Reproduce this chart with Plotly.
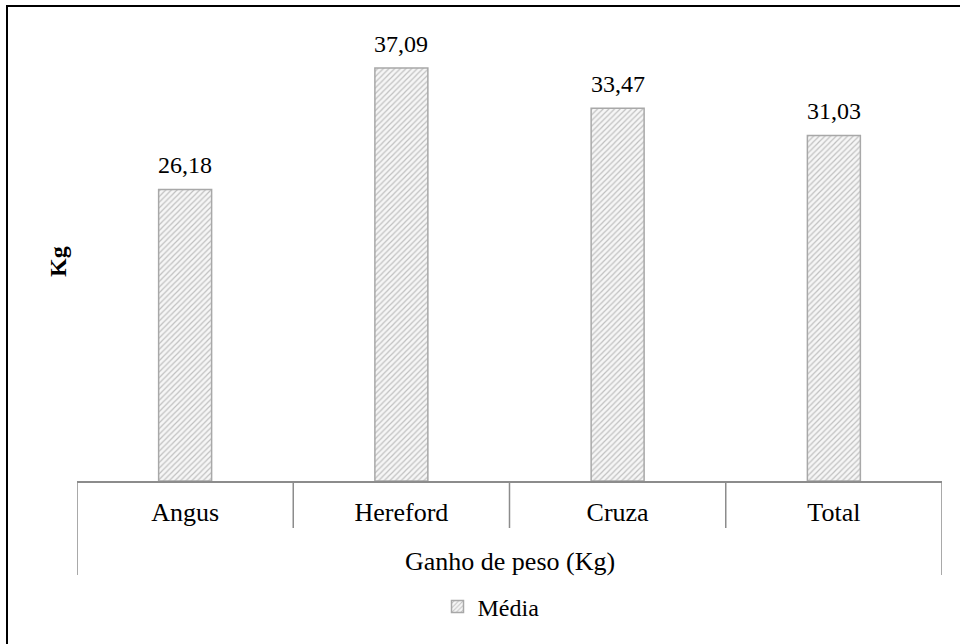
import plotly.graph_objects as go

categories = ["Angus", "Hereford", "Cruza", "Total"]
values = [26.18, 37.09, 33.47, 31.03]
series_name = "Média"
group_label = "Ganho de peso (Kg)"
y_title = "Kg"

W, H = 960, 644
FONT = "Liberation Serif"

labels = [f"{v:.2f}".replace(".", ",") for v in values]

fig = go.Figure()
fig.add_trace(go.Bar(
    x=categories, y=values, name=series_name, width=0.245,
    marker=dict(color="white",
                line=dict(color="#a8a8a8", width=1.5),
                pattern=dict(shape="/", fgcolor="#8a8a8a", bgcolor="#f6f6f6",
                             size=4, solidity=0.3)),
    showlegend=True,
))

annotations = []
for c, v, t in zip(categories, values, labels):
    annotations.append(dict(x=c, y=v, xref="x", yref="y", text=t, showarrow=False,
                            yanchor="bottom", yshift=9,
                            font=dict(family=FONT, size=24, color="black")))

ybase = (H - 481) / H
ytop = (H - 35.5) / H
x0 = 77 / W
x1 = 942 / W

annotations.append(dict(x=(x0 + x1) / 2, y=(H - 561) / H, xref="paper", yref="paper",
                        text=group_label, showarrow=False, yanchor="middle",
                        font=dict(family=FONT, size=26, color="black")))

shapes = []
for i in range(len(categories) + 1):
    xpos = i - 0.5
    bottom = (H - 575) / H if i in (0, len(categories)) else (H - 528) / H
    shapes.append(dict(type="line", xref="x", yref="paper", x0=xpos, x1=xpos,
                       y0=ybase, y1=bottom, line=dict(color="#8c8c8c", width=1.5)))
shapes.append(dict(type="rect", xref="paper", yref="paper",
                   x0=7 / W, x1=1.02, y0=-0.02, y1=(H - 6) / H,
                   line=dict(color="black", width=2), layer="above"))

fig.update_layout(
    width=W, height=H,
    margin=dict(l=0, r=0, t=0, b=0),
    paper_bgcolor="white", plot_bgcolor="white",
    font=dict(family=FONT, color="black"),
    xaxis=dict(domain=[x0, x1], range=[-0.5, len(categories) - 0.5],
               showline=True, linecolor="#8c8c8c", linewidth=1.5,
               showgrid=False, zeroline=False, ticks="", ticklabelstandoff=7,
               tickfont=dict(family=FONT, size=26, color="black")),
    yaxis=dict(domain=[ybase, ytop], range=[0, 40], showgrid=False, zeroline=False,
               showline=False, showticklabels=False, ticks=""),
    annotations=annotations + [dict(x=58 / W, y=(H - 262) / H, xref="paper", yref="paper",
                                    text="<b>" + y_title + "</b>", textangle=-90,
                                    showarrow=False, xanchor="center", yanchor="middle",
                                    font=dict(family=FONT, size=24, color="black"))],
    shapes=shapes,
    legend=dict(orientation="h", x=491 / W, xanchor="center", y=(H - 607) / H, yanchor="middle",
                font=dict(family=FONT, size=24, color="black"),
                itemwidth=30, bgcolor="rgba(0,0,0,0)"),
    bargap=0.75,
)

fig.write_html("out.html")
